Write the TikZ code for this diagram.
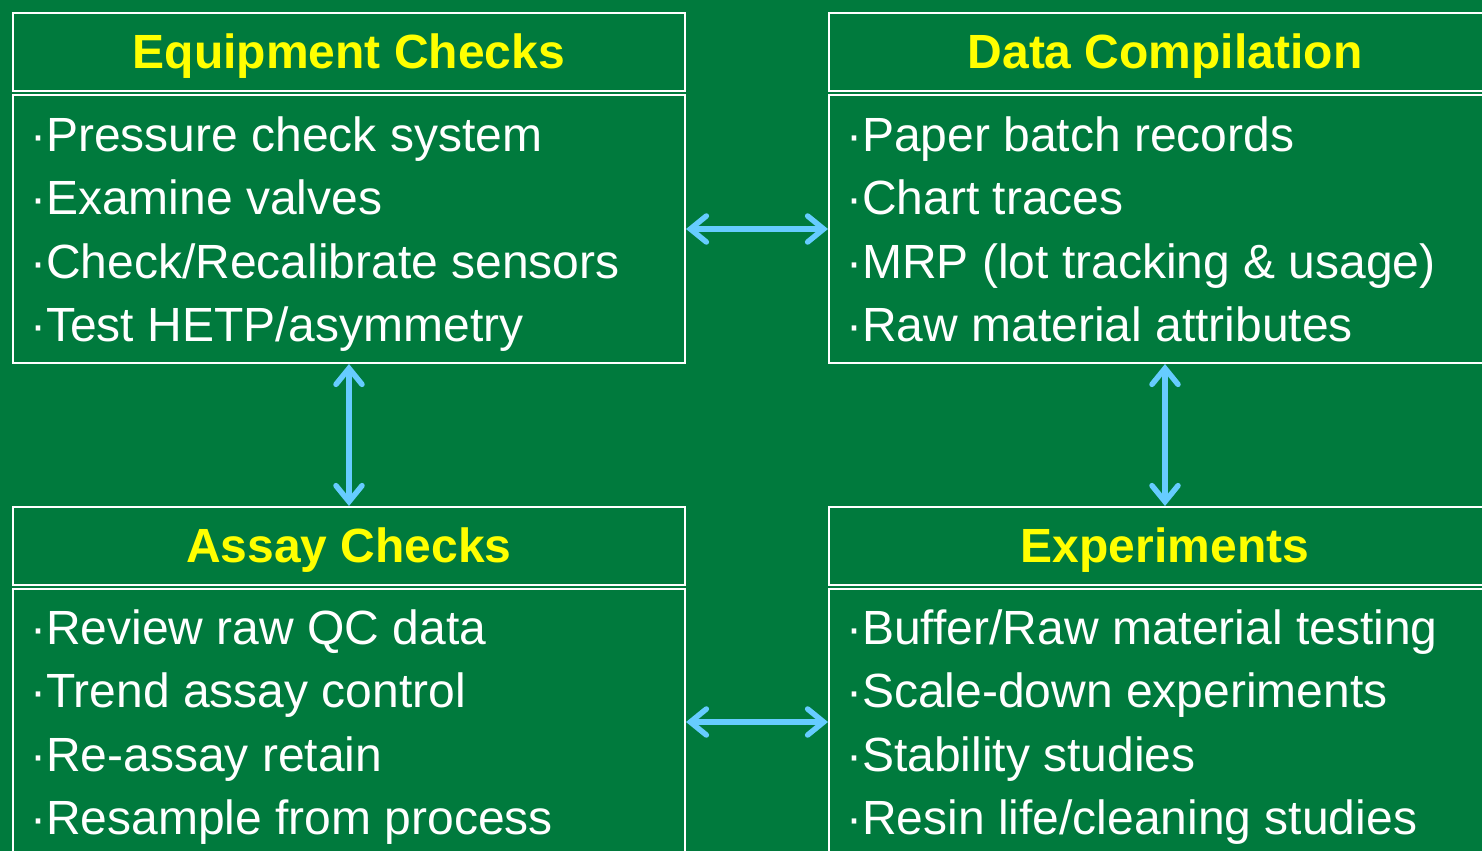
\documentclass[tikz,border=0pt]{standalone}
\usepackage{fontspec}
\setmainfont{Liberation Sans}
\usetikzlibrary{arrows.meta}
\definecolor{boardgreen}{RGB}{0,122,61}
\definecolor{linkblue}{RGB}{102,204,255}
\definecolor{titleyellow}{RGB}{255,255,0}
\tikzset{
  x=1pt, y=-1pt,
  frame/.style={draw=white, line width=2pt, inner sep=0pt, anchor=north west},
  title/.style={text=titleyellow, font=\fontsize{48}{50}\selectfont\bfseries, yshift=-4pt},
  item/.style={text=white, font=\fontsize{48}{50}\selectfont, anchor=base west, inner sep=0pt},
  barb/.tip={Straight Barb[length=16pt, width=26pt, line cap=round]},
  link/.style={draw=linkblue, line width=5.5pt, {barb}-{barb}}
}
\begin{document}
\begin{tikzpicture}
  \useasboundingbox (0,0) rectangle (1482,851);
  \fill[boardgreen] (0,0) rectangle (1482,851);
  \begin{scope}
    \clip (0,0) rectangle (1482,851);

    % top-left: equipment checks
    \node[frame, minimum width=672pt, minimum height=78pt] (eqh) at (12,12) {};
    \node[title] at (eqh.center) {Equipment Checks};
    \node[frame, minimum width=672pt, minimum height=268pt] (eqb) at (12,94) {};
    \node[item] (eq1) at (30,151) {·Pressure check system};
    \node[item] (eq2) at (30,214.5) {·Examine valves};
    \node[item] (eq3) at (30,278) {·Check/Recalibrate sensors};
    \node[item] (eq4) at (30,341.5) {·Test HETP/asymmetry};

    % top-right: data compilation
    \node[frame, minimum width=672pt, minimum height=78pt] (dch) at (828,12) {};
    \node[title] at (dch.center) {Data Compilation};
    \node[frame, minimum width=672pt, minimum height=268pt] (dcb) at (828,94) {};
    \node[item] (dc1) at (846,151) {·Paper batch records};
    \node[item] (dc2) at (846,214.5) {·Chart traces};
    \node[item] (dc3) at (846,278) {·MRP (lot tracking \& usage)};
    \node[item] (dc4) at (846,341.5) {·Raw material attributes};

    % bottom-left: assay checks
    \node[frame, minimum width=672pt, minimum height=78pt] (ach) at (12,506) {};
    \node[title] at (ach.center) {Assay Checks};
    \node[frame, minimum width=672pt, minimum height=268pt] (acb) at (12,588) {};
    \node[item] (ac1) at (30,644) {·Review raw QC data};
    \node[item] (ac2) at (30,707.5) {·Trend assay control};
    \node[item] (ac3) at (30,771) {·Re-assay retain};
    \node[item] (ac4) at (30,834.5) {·Resample from process};

    % bottom-right: experiments
    \node[frame, minimum width=672pt, minimum height=78pt] (exh) at (828,506) {};
    \node[title] at (exh.center) {Experiments};
    \node[frame, minimum width=672pt, minimum height=268pt] (exb) at (828,588) {};
    \node[item] (ex1) at (846,644) {·Buffer/Raw material testing};
    \node[item] (ex2) at (846,707.5) {·Scale-down experiments};
    \node[item] (ex3) at (846,771) {·Stability studies};
    \node[item] (ex4) at (846,834.5) {·Resin life/cleaning studies};
  \end{scope}

  % two-way links between the four areas
  \draw[link] (eqb.east) -- (dcb.west);
  \draw[link] (acb.east |- 0,722) -- (exb.west |- 0,722);
  \draw[link] (eqb.south) -- (ach.north);
  \draw[link] (dcb.south) -- (exh.north);
\end{tikzpicture}
\end{document}
